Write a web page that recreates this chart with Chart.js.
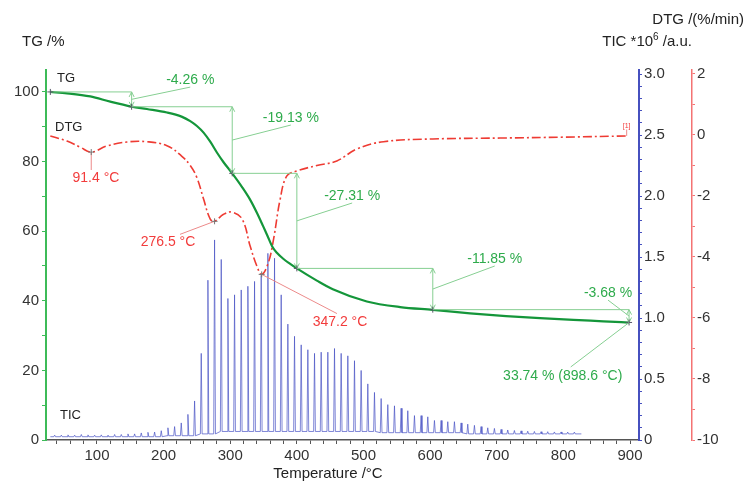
<!DOCTYPE html>
<html><head><meta charset="utf-8">
<script src="https://cdn.jsdelivr.net/npm/chart.js@4/dist/chart.umd.min.js"></script>
<style>html,body{margin:0;padding:0;background:#fff;}canvas{display:block;}</style>
</head><body>
<canvas id="c" width="746" height="484"></canvas>
<script>
// ---------- DATA ----------
const tgTemp = [30,55,90,120,152,175,205,227,240,250,260,270,280,290,303,318,330,340,349,356,363,370,380,390,400,430,454,505,555,604,660,714,765,815,860,898.6];
const tgMass = [100,99.6,98.7,97.2,95.8,95.1,94.1,92.9,91.6,90.2,88.3,85.7,82.6,79.8,76.6,72.6,69.0,65.3,61.6,58.6,55.6,53.8,52.0,50.6,49.3,45.8,43.3,39.8,38.2,37.4,36.4,35.6,35.0,34.5,34.1,33.74];

const dtgTemp = [30,55,75,91.4,115,145,175,205,227,240,250,260,270,276.5,290,303,318,330,340,347.2,357,365,375,385,400,430,460,490,530,604,705,800,898];
const dtgRate = [-0.03,-0.2,-0.4,-0.56,-0.36,-0.23,-0.22,-0.35,-0.69,-1.0,-1.4,-2.1,-2.76,-2.83,-2.6,-2.53,-2.76,-3.65,-4.3,-4.57,-4.2,-3.42,-2.1,-1.34,-1.18,-1.0,-0.85,-0.46,-0.22,-0.13,-0.1,-0.07,-0.03];

const ticTemp = [36.5,46.5,56.5,66.5,76.5,86.5,96.5,106.5,116.5,126.5,136.5,146.5,156.5,166.5,176.5,186.5,196.5,206.5,216.5,226.5,236.5,246.5,256.5,266.5,276.5,286.5,296.5,306.5,316.5,326.5,336.5,346.5,356.5,366.5,376.5,386.5,396.5,406.5,416.5,426.5,436.5,446.5,456.5,466.5,476.5,486.5,496.5,506.5,516.5,526.5,536.5,546.5,556.5,566.5,576.5,586.5,596.5,606.5,616.5,626.5,636.5,646.5,656.5,666.5,676.5,686.5,696.5,706.5,716.5,726.5,736.5,746.5,756.5,766.5,776.5,786.5,796.5,806.5,816.5];
const ticPeak = [0.040,0.040,0.042,0.040,0.045,0.042,0.040,0.042,0.040,0.045,0.045,0.050,0.050,0.058,0.063,0.065,0.076,0.100,0.110,0.140,0.210,0.320,0.710,1.310,1.640,1.480,1.160,1.190,1.230,1.260,1.300,1.350,1.530,1.490,1.190,0.950,0.850,0.780,0.740,0.710,0.720,0.720,0.750,0.710,0.690,0.650,0.570,0.460,0.390,0.340,0.290,0.280,0.260,0.240,0.200,0.200,0.190,0.160,0.160,0.150,0.150,0.140,0.130,0.120,0.110,0.100,0.095,0.087,0.082,0.078,0.075,0.072,0.070,0.068,0.068,0.066,0.066,0.065,0.065];
const ticBase = [0.027,0.027,0.027,0.027,0.027,0.027,0.027,0.027,0.027,0.027,0.027,0.027,0.027,0.027,0.027,0.027,0.027,0.035,0.035,0.035,0.035,0.035,0.05,0.05,0.05,0.07,0.07,0.07,0.07,0.07,0.07,0.07,0.07,0.07,0.07,0.07,0.07,0.07,0.07,0.07,0.07,0.07,0.07,0.07,0.07,0.07,0.07,0.07,0.07,0.06,0.06,0.06,0.06,0.06,0.06,0.06,0.06,0.06,0.06,0.06,0.06,0.06,0.05,0.05,0.05,0.05,0.05,0.05,0.05,0.05,0.05,0.05,0.05,0.05,0.05,0.05,0.05,0.05,0.05];
const ticStart = [30, 0.027];
const ticEnd = [827, 0.05];

// TG mass-loss steps
const stepTemp = [30,152,303,400,604,898.6];
const stepMass = [100,95.74,76.61,49.30,37.45,33.77];
const stepLabels = ['-4.26 %','-19.13 %','-27.31 %','-11.85 %','-3.68 %'];
const residueLabel = '33.74 % (898.6 °C)';
const residuePoint = [898.6, 33.74];

// DTG peaks
const peakTemp = [91.4, 276.5, 347.2];
const peakRate = [-0.56, -2.83, -4.57];
const peakLabels = ['91.4 °C','276.5 °C','347.2 °C'];

// tick labels
const xLabels = [100,200,300,400,500,600,700,800,900];
const tgLabels = [0,20,40,60,80,100];
const ticLabels = [0,0.5,1.0,1.5,2.0,2.5,3.0];
const dtgLabels = [2,0,-2,-4,-6,-8,-10];

// ---------- STYLE ----------
const FONT = '"Liberation Sans", Arial, Helvetica, sans-serif';
const GREEN = '#14963a', GREEN_AX = '#3dbb58', GREEN_TXT = '#2eab4c', GREEN_LN = '#86cf92';
const RED = '#ee3b33', RED_AX = '#f47373', RED_TXT = '#f23c3c', RED_LN = '#ec8a8a';
const BLUE = 'rgba(72,82,196,0.7)', BLUE_AX = '#4650bf';

// label placement (data units)
const stepLabelPos = [[240,103.4],[391,92.5],[483,70.1],[697,52],[867,42.2]];
const residueLabelPos = [799,18.4];
const peakLabelPos = [[98.5,-1.41],[206.6,-3.52],[464.7,-6.15]];

const ticPoints = [{x:ticStart[0],y:ticStart[1]}];
ticTemp.forEach((t,i)=>{
  ticPoints.push({x:t-1.3,y:ticBase[i]},{x:t,y:ticPeak[i]},{x:t+1.3,y:ticBase[i]});
});
ticPoints.push({x:ticEnd[0],y:ticEnd[1]});

const near = (arr,v)=>arr.some(a=>Math.abs(a-v)<1e-6);

const annot = {
  id:'annot',
  afterDatasetsDraw(chart){
    const {ctx, scales:{x,y,y2}} = chart;
    const px=t=>x.getPixelForValue(t), pm=m=>y.getPixelForValue(m), pd=d=>y2.getPixelForValue(d);
    const line=(a,b,c,d)=>{ctx.beginPath();ctx.moveTo(a,b);ctx.lineTo(c,d);ctx.stroke();};
    const cross=(cx,cy,col)=>{ctx.save();ctx.strokeStyle=col;ctx.lineWidth=1;line(cx-3,cy,cx+3,cy);line(cx,cy-3,cx,cy+3);ctx.restore();};
    ctx.save();
    ctx.lineWidth=1;
    ctx.font='14px '+FONT; ctx.textAlign='center'; ctx.textBaseline='middle';
    for(let i=0;i<stepLabels.length;i++){
      const x0=px(stepTemp[i]), x1=px(stepTemp[i+1]);
      const ya=pm(stepMass[i]), yb=pm(stepMass[i+1]);
      ctx.strokeStyle=GREEN_LN;
      line(x0,ya,x1,ya);
      line(x1,ya,x1,yb);
      const h=Math.min(5,Math.abs(yb-ya)/2);
      line(x1,ya,x1-2.5,ya+h); line(x1,ya,x1+2.5,ya+h);
      line(x1,yb,x1-2.5,yb-h); line(x1,yb,x1+2.5,yb-h);
      const lx=px(stepLabelPos[i][0]), ly=pm(stepLabelPos[i][1]);
      line(x1,(ya+yb)/2,lx,ly+7);
      ctx.fillStyle=GREEN_TXT; ctx.fillText(stepLabels[i],lx,ly);
      cross(x1,yb,'#556');
    }
    cross(px(stepTemp[0]),pm(stepMass[0]),'#556');
    {
      const rx=px(residuePoint[0]), ry=pm(residuePoint[1]);
      const lx=px(residueLabelPos[0]), ly=pm(residueLabelPos[1]);
      ctx.strokeStyle=GREEN_LN; line(rx,ry,lx+8,ly-9);
      ctx.fillStyle=GREEN_TXT; ctx.fillText(residueLabel,lx,ly);
    }
    for(let i=0;i<peakLabels.length;i++){
      const cx=px(peakTemp[i]), cy=pd(peakRate[i]);
      const lx=px(peakLabelPos[i][0]), ly=pd(peakLabelPos[i][1]);
      ctx.strokeStyle=RED_LN;
      if(i===0) line(cx,cy,cx,ly-8);
      else if(i===1) line(cx,cy,lx+12,ly-8);
      else line(cx,cy,lx-3,ly-9);
      ctx.fillStyle=RED_TXT; ctx.fillText(peakLabels[i],lx,ly);
      cross(cx,cy,'#777');
    }
    const xe=px(dtgTemp[dtgTemp.length-1])-2;
    ctx.font='7px '+FONT; ctx.fillStyle=RED_TXT;
    ctx.fillText('[1]',xe,pd(0.28));
    ctx.strokeStyle=RED_LN; line(xe,pd(0.18),xe,pd(-0.03));
    ctx.restore();
  },
  afterDraw(chart){
    const ctx=chart.ctx;
    ctx.save();
    ctx.fillStyle='#222'; ctx.textBaseline='middle';
    ctx.font='15px '+FONT;
    ctx.textAlign='left'; ctx.fillText('TG /%',22,42);
    ctx.textAlign='right'; ctx.fillText('DTG /(%/min)',744,20);
    const p1='TIC *10', p2='6', p3=' /a.u.';
    ctx.font='15px '+FONT; const w1=ctx.measureText(p1).width, w3=ctx.measureText(p3).width;
    ctx.font='10px '+FONT; const w2=ctx.measureText(p2).width;
    const x0=692-w1-w2-w3;
    ctx.textAlign='left';
    ctx.font='15px '+FONT; ctx.fillText(p1,x0,42);
    ctx.font='10px '+FONT; ctx.fillText(p2,x0+w1,37);
    ctx.font='15px '+FONT; ctx.fillText(p3,x0+w1+w2,42);
    ctx.textAlign='center'; ctx.font='15px '+FONT;
    ctx.fillText('Temperature /°C',328,474);
    ctx.font='13px '+FONT; ctx.textAlign='left';
    ctx.fillText('TG',57,78);
    ctx.fillText('DTG',55,127);
    ctx.fillText('TIC',60,415);
    ctx.restore();
  }
};

const tickFont = {size:15, family:FONT};
new Chart(document.getElementById('c'),{
  type:'line',
  data:{datasets:[
    {label:'TG',data:tgTemp.map((t,i)=>({x:t,y:tgMass[i]})),yAxisID:'y',borderColor:GREEN,borderWidth:2.2,pointRadius:0,cubicInterpolationMode:'monotone',fill:false,order:1},
    {label:'DTG',data:dtgTemp.map((t,i)=>({x:t,y:dtgRate[i]})),yAxisID:'y2',borderColor:RED,borderWidth:1.6,borderDash:[9,3,2,3],pointRadius:0,tension:0.4,fill:false,order:2},
    {label:'TIC',data:ticPoints,yAxisID:'y1',borderColor:BLUE,borderWidth:1,pointRadius:0,tension:0,fill:false,order:3}
  ]},
  options:{
    responsive:false, animation:false, devicePixelRatio:1,
    layout:{padding:{top:70,left:0,right:0,bottom:0}},
    plugins:{legend:{display:false},tooltip:{enabled:false}},
    scales:{
      x:{type:'linear',min:23.5,max:913.5,
        border:{display:true,color:'#555',width:1.5},
        grid:{drawOnChartArea:false,drawTicks:true,tickLength:4,color:'#555'},
        ticks:{stepSize:20,includeBounds:false,autoSkip:false,maxRotation:0,padding:3,color:'#333',font:tickFont,
          callback:v=>near(xLabels,v)?String(Math.round(v)):''},
        afterFit(s){s.height=44;}
      },
      y:{type:'linear',position:'left',min:0,max:106.3,
        border:{display:true,color:GREEN_AX,width:2},
        grid:{drawOnChartArea:false,tickLength:4,color:GREEN_AX},
        ticks:{stepSize:10,includeBounds:false,autoSkip:false,padding:3,color:'#333',font:tickFont,
          callback:v=>near(tgLabels,v)?String(Math.round(v)):''},
        afterFit(s){s.width=46;}
      },
      y1:{type:'linear',position:'right',weight:0,min:0,max:3.033,
        border:{display:true,color:BLUE_AX,width:2},
        grid:{drawOnChartArea:false,tickLength:3,color:BLUE_AX},
        ticks:{stepSize:0.1,includeBounds:false,autoSkip:false,padding:2,color:'#333',font:tickFont,
          callback:v=>near(ticLabels,v)?(Math.abs(v)<1e-6?'0':v.toFixed(1)):''},
        afterFit(s){s.width=53;}
      },
      y2:{type:'linear',position:'right',weight:1,min:-10,max:2.131,
        border:{display:true,color:RED_AX,width:1.5},
        grid:{drawOnChartArea:false,tickLength:3,color:RED_AX},
        ticks:{stepSize:1,includeBounds:false,autoSkip:false,padding:2,color:'#333',font:tickFont,
          callback:v=>near(dtgLabels,v)?String(Math.round(v)):''},
        afterFit(s){s.width=54;}
      }
    }
  },
  plugins:[annot]
});
</script>
</body></html>
